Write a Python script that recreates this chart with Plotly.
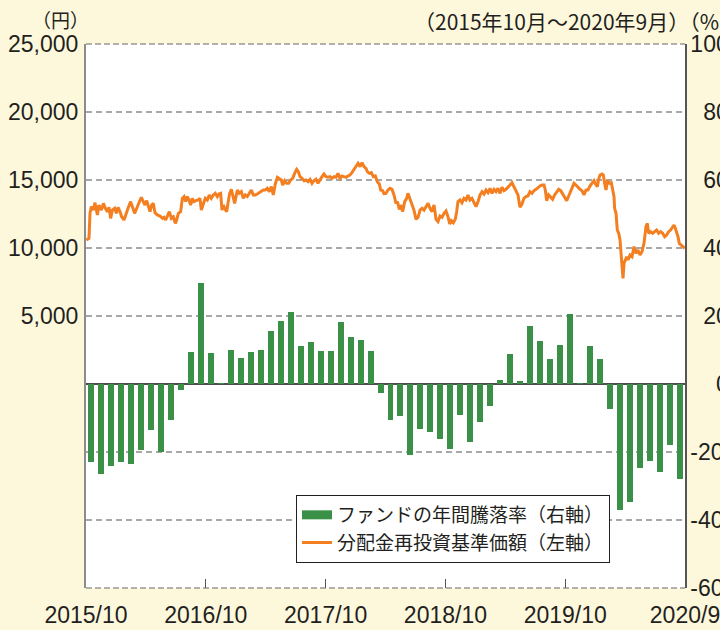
import plotly.graph_objects as go

# Fund annual return by month, Oct 2015 - Sep 2020 (%), right axis
return_months = [f"{2015 + (9 + i) // 12}/{(9 + i) % 12 + 1}" for i in range(60)]
annual_return = [
    -22.9, -26.4, -24.1, -22.9, -23.4, -19.4, -13.5, -20.0, -10.6, -1.8,
    9.4, 29.7, 9.1, 0.2, 10.0, 7.6, 9.4, 10.0, 15.6, 18.5,
    21.2, 11.2, 12.4, 9.7, 9.7, 18.2, 13.8, 12.9, 9.7, -2.5,
    -10.6, -9.4, -20.9, -13.2, -14.1, -16.2, -19.1, -9.1, -17.1, -11.2,
    -6.5, 1.2, 8.8, 0.9, 17.1, 12.6, 7.4, 11.5, 20.6, 0.1,
    11.2, 7.4, -7.4, -37.1, -34.7, -24.8, -22.5, -25.8, -17.9, -28.0,
]

# NAV with dividends reinvested (yen), left axis; time in months since 2015/10/1
nav_t = [
    0.03, 0.30, 0.40, 0.53, 0.73, 0.90, 1.14, 1.30, 1.54, 1.74, 1.94,
    2.14, 2.30, 2.47, 2.64, 2.87, 3.04, 3.21, 3.41, 3.57, 3.81,
    4.04, 4.21, 4.47, 4.67, 4.87, 5.08, 5.31, 5.54, 5.74, 5.91,
    6.08, 6.24, 6.41, 6.58, 6.74, 6.91, 7.15, 7.41, 7.65, 7.81,
    7.98, 8.15, 8.35, 8.55, 8.75, 8.95, 9.08, 9.25, 9.48, 9.65,
    9.82, 9.98, 10.15, 10.32, 10.48, 10.65, 10.82, 11.02, 11.22, 11.42,
    11.55, 11.75, 11.95, 12.15, 12.35, 12.55, 12.75, 12.95, 13.16, 13.32,
    13.49, 13.62, 13.76, 13.89, 14.09, 14.22, 14.39, 14.56, 14.72, 14.89,
    15.16, 15.36, 15.56, 15.76, 15.96, 16.16, 16.36, 16.56, 16.76, 16.96,
    17.16, 17.36, 17.56, 17.76, 17.96, 18.16, 18.36, 18.56, 18.76, 18.96,
    19.17, 19.37, 19.57, 19.70, 19.90, 20.10, 20.30, 20.50, 20.70, 20.90,
    21.10, 21.27, 21.44, 21.64, 21.84, 22.04, 22.24, 22.44, 22.64, 22.84,
    23.04, 23.24, 23.44, 23.64, 23.84, 24.04, 24.24, 24.44, 24.64, 24.84,
    25.04, 25.24, 25.44, 25.64, 25.84, 26.04, 26.24, 26.44, 26.64, 26.84,
    27.05, 27.25, 27.45, 27.65, 27.85, 28.05, 28.18, 28.38, 28.58, 28.78, 28.98,
    29.18, 29.38, 29.52, 29.72,
    29.85, 30.05, 30.25, 30.45, 30.65, 30.85, 31.05, 31.19, 31.39, 31.59, 31.72, 31.92,
    32.12, 32.25, 32.45, 32.65, 32.85, 33.06, 33.26, 33.46, 33.66, 33.86,
    34.06, 34.26, 34.46, 34.66, 34.86, 35.06, 35.26, 35.46, 35.66, 35.86,
    36.06, 36.26, 36.43, 36.59, 36.79, 36.99, 37.13, 37.26, 37.46, 37.66, 37.86,
    38.06, 38.26, 38.46, 38.66, 38.86, 39.07, 39.27, 39.47, 39.67, 39.87,
    40.07, 40.27, 40.47, 40.67, 40.87, 41.07, 41.27, 41.47, 41.67, 41.87,
    42.07, 42.27, 42.47, 42.67, 42.87, 43.07, 43.27, 43.47, 43.67, 43.87,
    44.07, 44.27, 44.47, 44.67, 44.87,
    45.08, 45.28, 45.48, 45.68, 45.88, 46.01, 46.14, 46.34, 46.54, 46.74, 46.94,
    47.15, 47.35, 47.55, 47.75, 47.95, 48.15, 48.35, 48.55, 48.75, 48.88,
    49.08, 49.28, 49.48, 49.68, 49.88, 50.08, 50.28, 50.48, 50.68, 50.88,
    51.09, 51.22, 51.35, 51.49, 51.69, 51.82, 51.95,
    52.09, 52.22, 52.42, 52.62, 52.75, 52.89, 52.95,
    53.09, 53.22, 53.36, 53.49, 53.62, 53.69, 53.79, 53.89,
    54.02, 54.16, 54.29, 54.49, 54.69, 54.89, 55.09, 55.29, 55.49, 55.69, 55.89,
    56.09, 56.23, 56.36, 56.56, 56.76, 56.96, 57.16, 57.36, 57.56, 57.76, 57.96,
    58.16, 58.36, 58.56, 58.76, 58.90, 59.03, 59.17, 59.30, 59.43, 59.63, 59.83, 59.97,
]
nav_yen = [
    10590, 10710, 12550, 13040, 12790, 13330, 12430, 13160, 12790, 13280, 12920,
    12670, 12990, 12180, 12790, 12920, 12550, 12990, 12670, 12300, 12060,
    12670, 12920, 13410, 13040, 12550, 12920, 13330, 13730, 13410, 13160,
    13480, 12990, 12670, 13160, 13280, 12600, 12430, 12350, 12180, 12260,
    12060, 12350, 12670, 12180, 12300, 11810, 12060, 12550, 12670, 13650,
    13780, 13410, 13780, 13530, 13160, 13650, 13410, 13480, 13530, 13650,
    12790, 13240, 13650, 13530, 13900, 13650, 13900, 14020, 13780, 13970,
    14020, 12790, 13160, 12920, 12670, 13280, 14020, 14310, 13780, 13280,
    14265, 14020, 14140, 13650, 13900, 13780, 14020, 14265, 13900, 13900,
    13970, 14070, 14140, 14265, 14265, 14390, 14140, 14510, 13900, 14710,
    15200, 15120, 15000, 14630, 14950, 14755, 14755, 15000, 15120, 15490,
    15780, 15610, 15245, 15120, 14950, 15000, 14880, 15050, 14755, 14950,
    15050, 14755, 15050, 15245, 15440, 15245, 15200, 15245, 15120, 15245,
    15200, 15490, 15120, 15295, 15245, 15200, 15295, 15370, 15540, 15780,
    16030, 16230, 15980, 16275, 15980, 15860, 15610, 15490, 15540, 15245, 15295,
    14880, 14710, 14265, 14215,
    14000, 14020, 14265, 14390, 14310, 13900, 13285, 13410, 12840, 13160, 12670, 13410,
    13650, 14020, 13650, 13160, 12790, 12110, 12255, 12790, 12920, 12790,
    13040, 13285, 12920, 12670, 13160, 12110, 11940, 12350, 12255, 12550,
    12720, 12300, 11765, 12010, 11860, 12110, 12670, 13410, 13530, 13330, 13650,
    13530, 13900, 13530, 13650, 13285, 13040, 13410, 13900, 14140, 13970,
    14265, 14070, 14390, 14020, 14310, 14140, 14390, 14020, 14460, 14215,
    14310, 14510, 14630, 14800, 14510, 14140, 13900, 12990, 13235, 13650,
    13775, 13825, 14140, 14020, 14215,
    14310, 14460, 14560, 14630, 14630, 14265, 13480, 13900, 13775, 13580, 13900,
    14070, 14310, 14215, 13970, 13775, 13480, 13825, 14140, 14460, 14755,
    14630, 14460, 14310, 14215, 13900, 14265, 14265, 14560, 14755, 14950,
    14630, 14510, 15050, 15370, 15440, 15370, 14755,
    14265, 14950, 14755, 14800, 14390, 13775, 12920,
    12550, 11320, 11080, 10590, 9360, 8380, 7770, 8870,
    9120, 9360, 9120, 9485, 9360, 10100, 9610, 9850, 9485, 9730, 10340,
    11570, 11810, 11080, 11200, 11080, 11200, 11320, 11080, 11200, 11080, 10830,
    10960, 11200, 11320, 11570, 11690, 11450, 11200, 10830, 10340, 10220, 10050, 9975,
]
assert len(nav_t) == len(nav_yen)

# Axis ticks
x_tick_months = [0, 12, 24, 36, 48, 60]
x_tick_labels = ["2015/10", "2016/10", "2017/10", "2018/10", "2019/10", "2020/9"]
yen_ticks = [5000, 10000, 15000, 20000, 25000]
yen_labels = ["5,000", "10,000", "15,000", "20,000", "25,000"]
pct_ticks = [-60, -40, -20, 0, 20, 40, 60, 80, 100]
pct_labels = ["-60", "-40", "-20", "\u2007\u20070", "\u200720", "\u200740",
              "\u200760", "\u200780", "100"]

GREEN = "#3a9046"
ORANGE = "#f47f20"
TEXT = "#231f20"
BG = "#fdf8dc"
NUM_FONT = "Liberation Sans, Arial, Noto Sans CJK JP, sans-serif"
JP_FONT = "Noto Sans CJK JP, sans-serif"

fig = go.Figure()

fig.add_trace(go.Bar(
    x=[i + 0.5 for i in range(len(return_months))],
    y=annual_return,
    customdata=return_months,
    width=0.6,
    marker=dict(color=GREEN, line=dict(width=0)),
    yaxis="y",
    showlegend=False,
    hovertemplate="%{customdata}: %{y}%<extra></extra>",
))
# legend key for the bars (a thick green stroke)
fig.add_trace(go.Scatter(
    x=[None], y=[None], mode="lines",
    line=dict(color=GREEN, width=9),
    name="ファンドの年間騰落率（右軸）",
    yaxis="y",
))
fig.add_trace(go.Scatter(
    x=nav_t, y=nav_yen, mode="lines",
    line=dict(color=ORANGE, width=3),
    name="分配金再投資基準価額（左軸）",
    yaxis="y2",
))

fig.update_layout(
    width=720, height=630,
    margin=dict(l=86, r=35, t=44, b=42, autoexpand=False),
    paper_bgcolor=BG,
    plot_bgcolor="white",
    font=dict(family=NUM_FONT, color=TEXT, size=22),
    xaxis=dict(
        range=[0, 60], automargin=False,
        tickvals=x_tick_months, ticktext=x_tick_labels,
        ticks="inside", ticklen=9, tickcolor="#555", tickwidth=1.2,
        showgrid=False, zeroline=False, showline=False,
        tickfont=dict(size=23, family=NUM_FONT, color=TEXT),
        ticklabelstandoff=11, ticklabeloverflow="allow",
    ),
    yaxis=dict(
        side="right", automargin=False,
        range=[-60, 100],
        tickvals=pct_ticks, ticktext=pct_labels,
        ticks="", ticklabelstandoff=-1, ticklabeloverflow="allow",
        showgrid=True, gridcolor="#a8a8a8", gridwidth=1.5, griddash="6px,4px",
        zeroline=True, zerolinecolor="#4d4d4d", zerolinewidth=1.5,
        showline=True, linecolor="#555555", linewidth=1.5,
        tickfont=dict(size=23, family=NUM_FONT, color=TEXT),
    ),
    yaxis2=dict(
        overlaying="y", side="left", automargin=False,
        range=[-15000, 25000],
        tickvals=yen_ticks, ticktext=yen_labels,
        ticks="", ticklabelstandoff=1, ticklabeloverflow="allow",
        showgrid=False, zeroline=False,
        showline=True, linecolor="#8c8c8c", linewidth=2,
        tickfont=dict(size=23, family=NUM_FONT, color=TEXT),
    ),
    legend=dict(
        x=0.3506, y=0.171, xanchor="left", yanchor="top",
        bgcolor="white", bordercolor=TEXT, borderwidth=1,
        font=dict(family=JP_FONT, size=19, color=TEXT),
        itemwidth=30, tracegroupgap=0, traceorder="normal",
    ),
    shapes=[
        dict(type="line", xref="paper", yref="paper", x0=0, x1=1, y0=1, y1=1,
             line=dict(color="#666666", width=1.2, dash="6px,3px")),
        dict(type="line", xref="paper", yref="paper", x0=0, x1=1, y0=0, y1=0,
             line=dict(color="#666666", width=1.2, dash="6px,3px")),
    ],
    annotations=[
        dict(text="（円）", xref="paper", yref="paper", x=-0.0434, y=1.045,
             xanchor="center", yanchor="middle", showarrow=False,
             font=dict(family=JP_FONT, size=19, color=TEXT)),
        dict(text="（2015年10月～2020年9月）（%）", xref="paper", yref="paper",
             x=0.5442, y=1.042, xanchor="left", yanchor="middle", showarrow=False,
             font=dict(family=JP_FONT, size=21, color=TEXT)),
    ],
    bargap=0,
)

fig.write_html("out.html")
